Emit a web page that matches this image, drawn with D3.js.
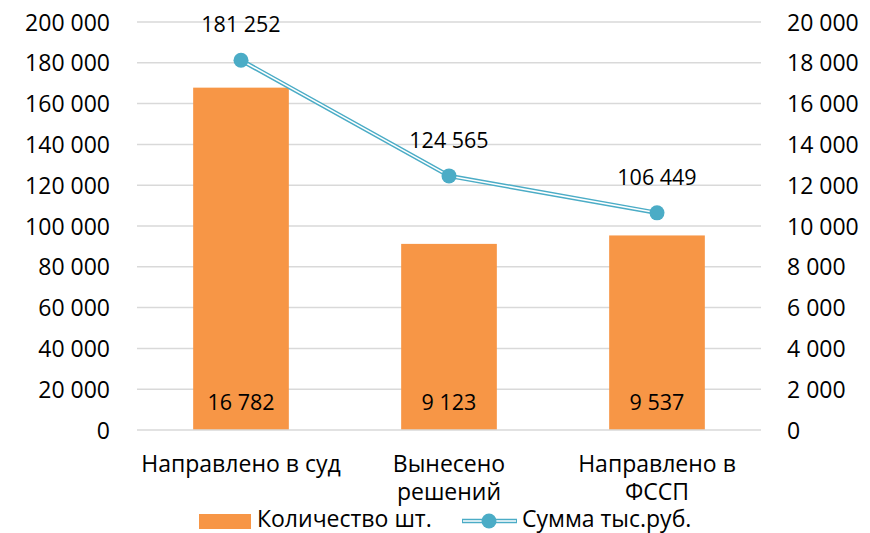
<!DOCTYPE html>
<html>
<head>
<meta charset="utf-8">
<script src="https://cdn.jsdelivr.net/npm/d3@7"></script>
<style>
  body { margin: 0; background: #fff; }
  svg text { font-family: "Open Sans", "Noto Sans", sans-serif; fill: #000; }
</style>
</head>
<body>
<svg id="chart" width="870" height="533"></svg>
<script>
const categories = ["Направлено в суд", "Вынесено\nрешений", "Направлено в\nФССП"]
const kolichestvo = [16782, 9123, 9537]
const summa = [181252, 124565, 106449]
const leftTicks = [0, 20000, 40000, 60000, 80000, 100000, 120000, 140000, 160000, 180000, 200000]
const rightTicks = [0, 2000, 4000, 6000, 8000, 10000, 12000, 14000, 16000, 18000, 20000]
const seriesNames = ["Количество шт.", "Сумма тыс.руб."]

const orange = "#F79646"
const blue = "#4BACC6"

const svg = d3.select('#chart')
const margin = { top: 22, right: 109, bottom: 103, left: 137 }
const width = 870, height = 533
const innerW = width - margin.left - margin.right
const innerH = height - margin.top - margin.bottom

const g = svg.append('g').attr('transform', `translate(${margin.left},${margin.top})`)

const x = d3.scaleBand().domain(categories).range([0, innerW]).paddingInner(0.54).paddingOuter(0.27)
const yLeft = d3.scaleLinear().domain([0, 200000]).range([innerH, 0])
const yRight = d3.scaleLinear().domain([0, 20000]).range([innerH, 0])

const fmt = v => d3.format(',')(v).replace(/,/g, ' ')

// grid
g.selectAll('line.grid').data(leftTicks.filter(d => d > 0))
  .enter().append('line')
  .attr('x1', 0).attr('x2', innerW)
  .attr('y1', d => yLeft(d)).attr('y2', d => yLeft(d))
  .attr('stroke', '#D9D9D9').attr('stroke-width', 1.5)

// left axis
const axL = g.append('g').call(d3.axisLeft(yLeft).tickValues(leftTicks).tickFormat(fmt).tickSize(0).tickPadding(27))
axL.select('.domain').remove()
axL.selectAll('text').attr('font-size', 23).attr('dy', '0.35em')

// right axis
const axR = g.append('g').attr('transform', `translate(${innerW},0)`)
  .call(d3.axisRight(yRight).tickValues(rightTicks).tickFormat(fmt).tickSize(0).tickPadding(26))
axR.select('.domain').remove()
axR.selectAll('text').attr('font-size', 23).attr('dy', '0.35em')

// bars
g.selectAll('rect.bar').data(kolichestvo)
  .enter().append('rect')
  .attr('x', (d, i) => x(categories[i]))
  .attr('width', x.bandwidth())
  .attr('y', d => yRight(d))
  .attr('height', d => innerH - yRight(d))
  .attr('fill', orange)

g.selectAll('text.barlabel').data(kolichestvo)
  .enter().append('text')
  .attr('x', (d, i) => x(categories[i]) + x.bandwidth() / 2)
  .attr('y', innerH - 20)
  .attr('text-anchor', 'middle')
  .attr('font-size', 21.5)
  .text(d => fmt(d))

// x axis line
g.append('line').attr('x1', 0).attr('x2', innerW).attr('y1', innerH).attr('y2', innerH)
  .attr('stroke', '#D9D9D9').attr('stroke-width', 1.5)

// category labels, one text per line
categories.forEach(c => {
  c.split('\n').forEach((line, j) => {
    g.append('text')
      .attr('x', x(c) + x.bandwidth() / 2)
      .attr('y', innerH + 42 + j * 28)
      .attr('text-anchor', 'middle')
      .attr('font-size', 23)
      .text(line)
  })
})

// line (double line style)
const line = d3.line()
  .x((d, i) => x(categories[i]) + x.bandwidth() / 2)
  .y(d => yLeft(d))

g.append('path').datum(summa).attr('d', line)
  .attr('fill', 'none').attr('stroke', blue).attr('stroke-width', 4.5).attr('stroke-linejoin', 'round')
g.append('path').datum(summa).attr('d', line)
  .attr('fill', 'none').attr('stroke', '#fff').attr('stroke-width', 1.5).attr('stroke-linejoin', 'round')

g.selectAll('circle.pt').data(summa)
  .enter().append('circle')
  .attr('cx', (d, i) => x(categories[i]) + x.bandwidth() / 2)
  .attr('cy', d => yLeft(d))
  .attr('r', 7.5)
  .attr('fill', blue)

g.selectAll('text.linelabel').data(summa)
  .enter().append('text')
  .attr('x', (d, i) => x(categories[i]) + x.bandwidth() / 2)
  .attr('y', d => yLeft(d) - 28)
  .attr('text-anchor', 'middle')
  .attr('font-size', 21.5)
  .text(d => fmt(d))

// legend
const leg = svg.append('g')
leg.append('rect').attr('x', 199).attr('y', 514).attr('width', 52).attr('height', 15).attr('fill', orange)
leg.append('text').attr('x', 257).attr('y', 527).attr('font-size', 23).text(seriesNames[0])

leg.append('line').attr('x1', 462).attr('x2', 517).attr('y1', 521).attr('y2', 521)
  .attr('stroke', blue).attr('stroke-width', 4.5)
leg.append('line').attr('x1', 463).attr('x2', 516).attr('y1', 521).attr('y2', 521)
  .attr('stroke', '#fff').attr('stroke-width', 1.5)
leg.append('circle').attr('cx', 489).attr('cy', 521).attr('r', 7.5).attr('fill', blue)
leg.append('text').attr('x', 522).attr('y', 527).attr('font-size', 23).text(seriesNames[1])
</script>
</body>
</html>
